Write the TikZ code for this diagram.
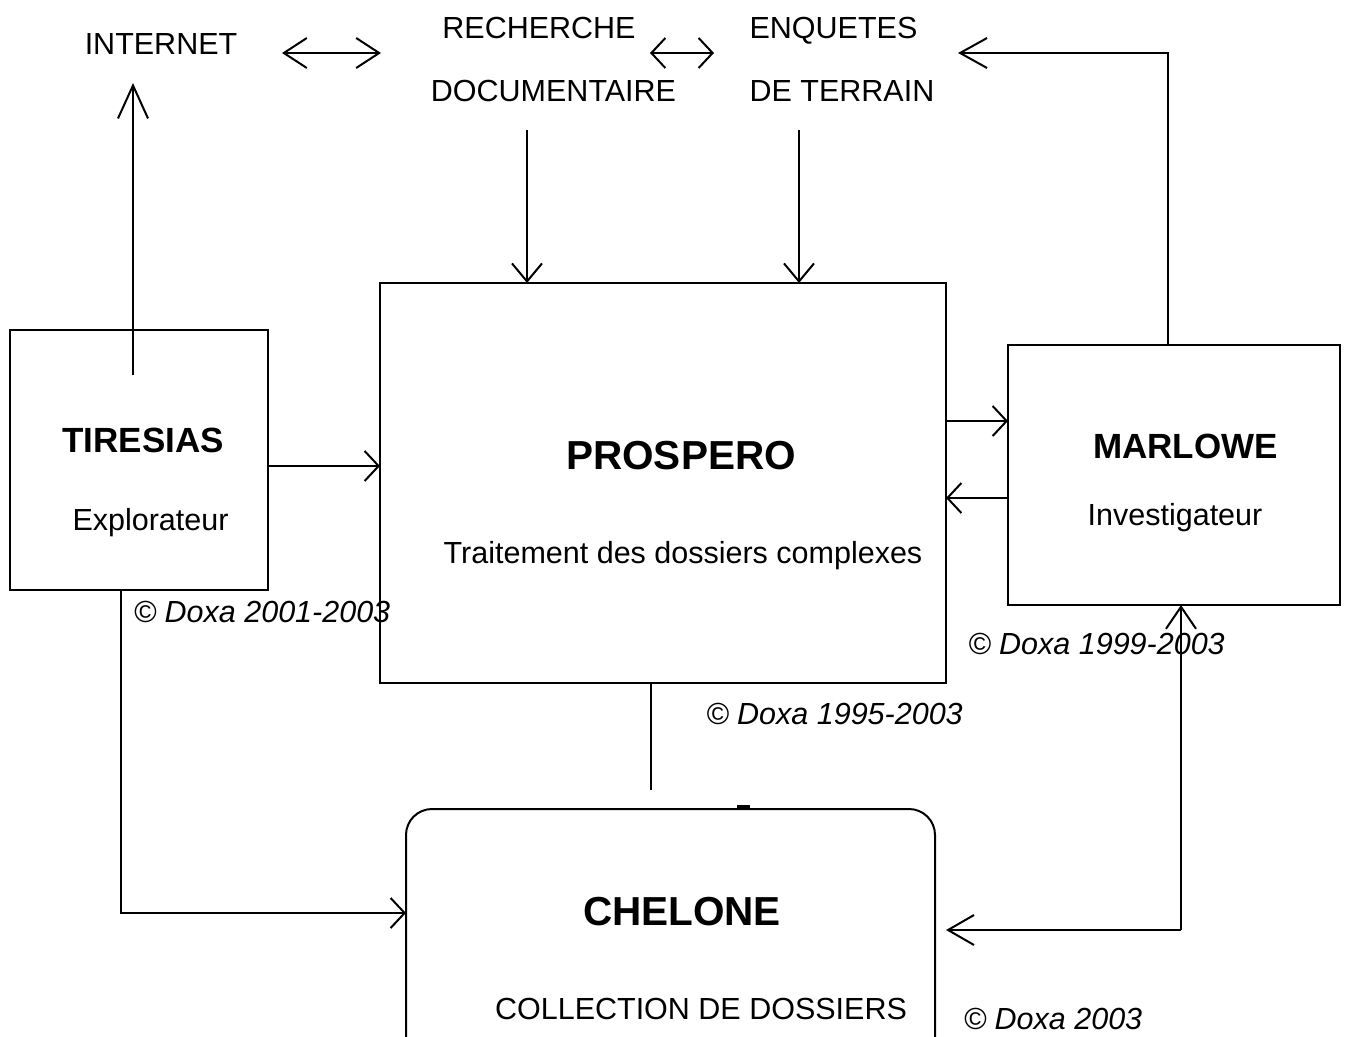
\documentclass[tikz,border=0pt]{standalone}
\usepackage{fontspec}
\setmainfont{Liberation Sans}
\usetikzlibrary{arrows.meta}
\definecolor{ink}{HTML}{000000}
\tikzset{
  box/.style={draw=ink,line width=2pt,inner sep=0pt,outer sep=0pt},
  txt/.style={ink,inner sep=0pt,anchor=base,font=\fontsize{30.5}{36}\selectfont},
  boxtitle/.style={txt,font=\fontsize{35}{42}\selectfont\bfseries},
  bigtitle/.style={txt,font=\fontsize{40.5}{48}\selectfont\bfseries},
  doxa/.style={txt,font=\fontsize{30.5}{36}\selectfont\itshape},
  link/.style={ink,line width=2pt,-{Straight Barb[length=#1,width=30pt]}},
  link/.default=14pt,
  twoway/.style={ink,line width=2pt,
    {Straight Barb[length=#1,width=30pt]}-{Straight Barb[length=#1,width=30pt]}},
  twoway/.default=20pt,
}

\begin{document}
\begin{tikzpicture}[x=1pt,y=-1pt]

\fill[white] (0,0) rectangle (1346,1036);
\useasboundingbox (0,0) rectangle (1346,1036);

% ---------------------------------------------------------------- boxes
\node[box,minimum width=258pt,minimum height=260pt] (tiresias) at (139,460) {};
\node[box,minimum width=566pt,minimum height=400pt] (prospero) at (663,483) {};
\node[box,minimum width=332pt,minimum height=260pt] (marlowe) at (1174,475) {};
\node[box,rounded corners=26pt,minimum width=529pt,minimum height=257pt] (chelone) at (670.5,937.5) {};

% ---------------------------------------------------------------- sources
\node[txt] (internet) at (161,54) {INTERNET};
\node[txt] (recherche) at (539,38) {RECHERCHE};
\node[txt] (documentaire) at (553.5,101) {DOCUMENTAIRE};
\node[txt] (enquetes) at (833.5,38) {ENQUETES};
\node[txt] (terrain) at (842,101) {DE TERRAIN};

% ---------------------------------------------------------------- box texts
\node[boxtitle] (tirname) at (143,452.5) {TIRESIAS};
\node[txt] (tirrole) at (150.5,530) {Explorateur};
\node[bigtitle] (proname) at (681,469.5) {PROSPERO};
\node[txt] (prorole) at (683,563) {Traitement des dossiers complexes};
\node[boxtitle] (marname) at (1185.5,458.5) {MARLOWE};
\node[txt] (marrole) at (1175,525) {Investigateur};
\node[bigtitle] (chename) at (682,925.5) {CHELONE};
\node[txt] (cherole) at (701,1019) {COLLECTION DE DOSSIERS};

% ---------------------------------------------------------------- credits
\node[doxa] (tircopy) at (262,622) {© Doxa 2001-2003};
\node[doxa] (procopy) at (834.5,724) {© Doxa 1995-2003};
\node[doxa] (marcopy) at (1096.5,654) {© Doxa 1999-2003};
\node[doxa] (checopy) at (1053,1029) {© Doxa 2003};

% ---------------------------------------------------------------- free ends
\coordinate (tirup) at (133,375);
\coordinate (nettip) at (133,83);
\coordinate (netright) at (282,53);
\coordinate (recleft) at (381,53);
\coordinate (recright) at (650,53);
\coordinate (enqleft) at (714,53);
\coordinate (docout) at (527,130);
\coordinate (terout) at (799,130);
\coordinate (enqin) at (958,53);
\coordinate (proout) at (651,790);
\coordinate (corner) at (1181,930);

% ---------------------------------------------------------------- links
\draw[link=33pt] (tirup) -- (nettip);
\draw[twoway=23pt] (netright) -- (recleft);
\draw[twoway=14pt] (recright) -- (enqleft);
\draw[link=18pt] (docout) -- (docout |- prospero.north);
\draw[link=18pt] (terout) -- (terout |- prospero.north);
\draw[link=27pt] ([xshift=-6pt]marlowe.north) |- (enqin);
\draw[link] (tiresias.east |- 0,466) -- (prospero.west |- 0,466);
\draw[link] (prospero.east |- 0,421) -- (marlowe.west |- 0,421);
\draw[link] (marlowe.west |- 0,498) -- (prospero.east |- 0,498);
\draw[link] ([xshift=-18pt]tiresias.south) |- (chelone.west |- 0,913);
\draw[ink,line width=2pt] (prospero.south -| proout) -- (proout);
\draw[link=22pt] (corner) -- (corner |- marlowe.south);
\draw[link=26pt] (corner) -- ([xshift=11pt]chelone.east |- corner);
\draw[ink,line width=3pt] (737,806) -- (750,806);

\end{tikzpicture}
\end{document}
